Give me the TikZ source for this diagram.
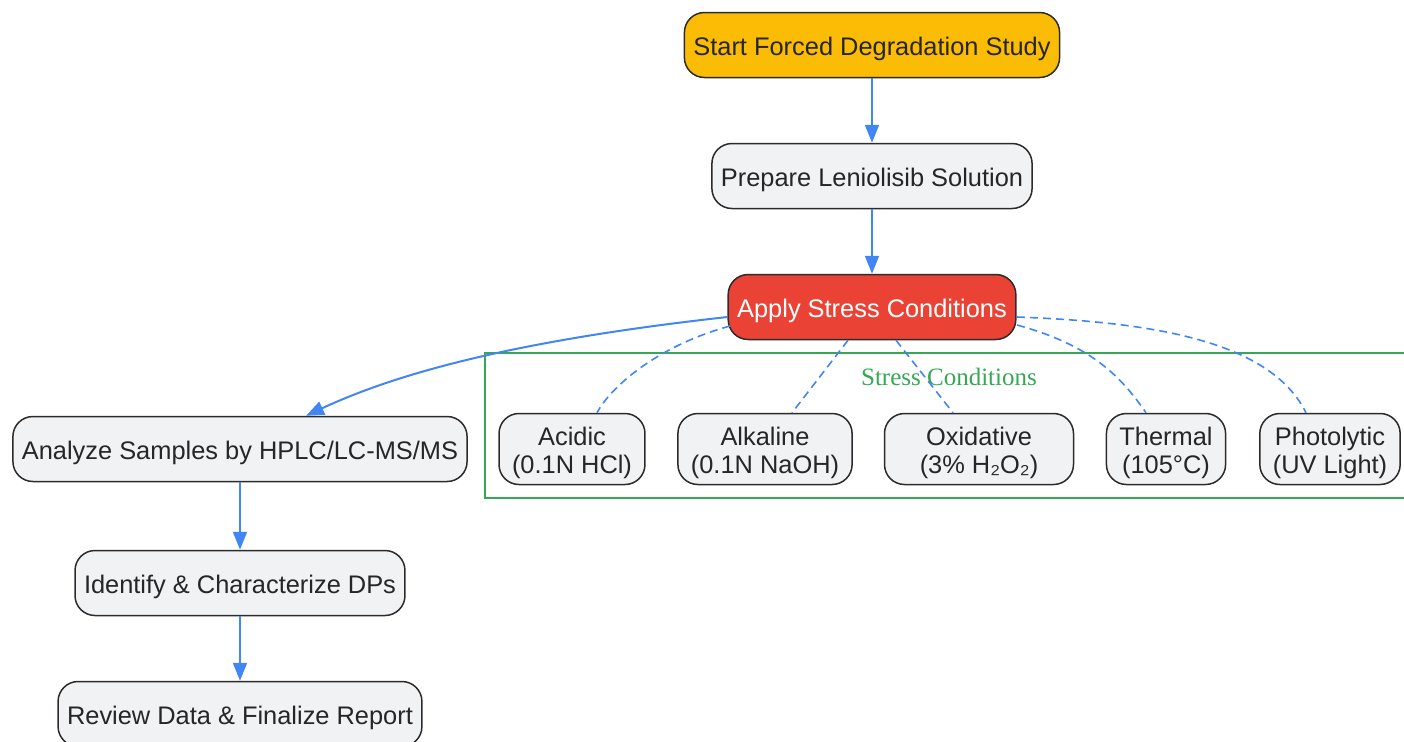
\documentclass[tikz,border=0pt]{standalone}
\usepackage{fontspec}
\setmainfont{Liberation Sans}
\newfontfamily\clusterfont{Liberation Serif}
\usetikzlibrary{arrows.meta}

\definecolor{startyellow}{HTML}{FBBC05}
\definecolor{applyred}{HTML}{EA4335}
\definecolor{boxgray}{HTML}{F1F2F4}
\definecolor{boxline}{HTML}{2B2B2B}
\definecolor{boxtext}{HTML}{262626}
\definecolor{flowblue}{HTML}{4285F4}
\definecolor{clustergreen}{HTML}{34A853}

\tikzset{
  box/.style={draw=boxline, line width=0.75pt, rounded corners=10pt, fill=boxgray,
    text=boxtext, inner xsep=4.5pt, inner ysep=2.5pt, minimum height=32.5pt, align=center,
    font=\fontsize{12.7}{14}\selectfont, execute at begin node={\rule{0pt}{13pt}}},
  twoline/.style={box, execute at begin node={}, text height=27.2pt, text depth=2.7pt,
    inner xsep=6.5pt, minimum height=35.5pt},
  flow/.style={draw=flowblue, line width=1pt, -{Triangle[length=9pt,width=7pt]}},
  link/.style={draw=flowblue, line width=0.8pt, dash pattern=on 4pt off 2.5pt},
}

\begin{document}
\begin{tikzpicture}[x=0.5pt,y=-0.5pt]
\useasboundingbox (0,0) rectangle (1404,741);
\clip (0,0) rectangle (1404,741);

\draw[clustergreen, line width=0.8pt] (485,353) rectangle (1430,498);
\node[text=clustergreen, font=\clusterfont\fontsize{12.5}{14}\selectfont] (stresslabel) at (949,377) {Stress Conditions};

\node[box, fill=startyellow] (start) at (872,45) {Start Forced Degradation Study};
\node[box] (prepare) at (872,176) {Prepare Leniolisib Solution};
\node[box, fill=applyred, text=white] (apply) at (872,307) {Apply Stress Conditions};

\node[twoline] (acidic) at (572,449) {Acidic\\(0.1N HCl)};
\node[twoline] (alkaline) at (765,449) {Alkaline\\(0.1N NaOH)};
\node[twoline, minimum width=94.5pt] (oxidative) at (979,449) {Oxidative\\(3\% H₂O₂)};
\node[twoline] (thermal) at (1166,449) {Thermal\\(105°C)};
\node[twoline] (photolytic) at (1330,449) {Photolytic\\(UV Light)};

\node[box] (analyze) at (240,449) {Analyze Samples by HPLC/LC-MS/MS};
\node[box] (identify) at (240,583) {Identify \& Characterize DPs};
\node[box] (review) at (240,714) {Review Data \& Finalize Report};

\draw[flow] (start) -- (prepare);
\draw[flow] (prepare) -- (apply);
\draw[flow] ([yshift=-5pt]apply.west) .. controls (520,340) and (400,372) .. ([xshift=33pt]analyze.north);
\draw[flow] (analyze) -- (identify);
\draw[flow] (identify) -- (review);

\draw[link] ([xshift=-71pt,yshift=-9.5pt]apply.center) .. controls (660,345) and (612,385) .. ([xshift=12.5pt]acidic.north);
\draw[link] ([xshift=-12pt]apply.south) -- ([xshift=13.5pt]alkaline.north);
\draw[link] ([xshift=12pt]apply.south) -- ([xshift=-13pt]oxidative.north);
\draw[link] ([xshift=72.5pt,yshift=-9pt]apply.center) .. controls (1090,345) and (1120,375) .. ([xshift=-10pt]thermal.north);
\draw[link] ([xshift=72.5pt,yshift=-5pt]apply.center) .. controls (1150,322) and (1270,340) .. ([xshift=-12pt]photolytic.north);
\end{tikzpicture}
\end{document}
